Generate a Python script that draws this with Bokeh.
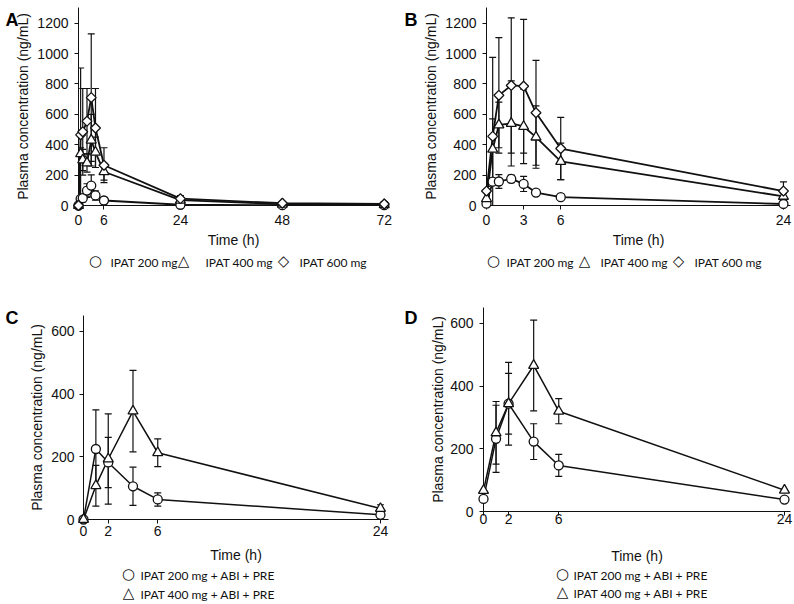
import numpy as np
from bokeh.plotting import figure
from bokeh.models import ColumnDataSource, Whisker, TeeHead, FixedTicker, Range1d
from bokeh.layouts import column, row
from bokeh.embed import file_html
from bokeh.resources import INLINE

# ---------------- data ----------------
# Panel A: 0-72 h
tA = [0, 0.5, 1, 2, 3, 4, 6, 24, 48, 72]
a200 = [0, 44, 48, 98, 131, 66, 33, 5, 2, 2]
a200_sd = [0, 20, 25, 45, 70, 30, 10, 3, 1, 1]
a400 = [0, 340, 300, 280, 430, 350, 222, 35, 8, 5]
a400_sd = [0, 40, 70, 60, 170, 100, 55, 15, 4, 3]
a600 = [0, 465, 485, 555, 710, 510, 265, 45, 15, 10]
a600_sd = [0, 440, 285, 215, 420, 260, 115, 20, 6, 5]

# Panel B: 0-24 h
tB = [0, 0.5, 1, 2, 3, 4, 6, 24]
b200 = [12, 157, 158, 175, 142, 85, 55, 10]
b200_sd = [3, 15, 45, 25, 50, 12, 8, 3]
b400 = [45, 370, 530, 540, 520, 450, 290, 60]
b400_sd = [10, 200, 150, 280, 245, 205, 120, 20]
b600 = [95, 455, 725, 790, 785, 610, 375, 95]
b600_sd = [30, 520, 380, 445, 440, 345, 205, 60]

# Panel C: with ABI + PRE
tC = [0, 1, 2, 4, 6, 24]
c200 = [0, 225, 182, 106, 64, 15]
c200_sd = [0, 125, 80, 61, 21, 3]
c400 = [0, 108, 193, 346, 213, 35]
c400_sd = [0, 65, 144, 130, 44, 12]

# Panel D: with ABI + PRE
tD = [0, 1, 2, 4, 6, 24]
d200 = [40, 232, 344, 223, 147, 38]
d200_sd = [0, 107, 97, 57, 35, 0]
d400 = [67, 251, 344, 466, 320, 68]
d400_sd = [0, 100, 132, 145, 40, 0]

xticks_A = [0, 6, 24, 48, 72]
xticks_B = [0, 3, 6, 24]
xticks_CD = [0, 2, 6, 24]
yticks_AB = [0, 200, 400, 600, 800, 1000, 1200]
yticks_CD = [0, 200, 400, 600]

labels_AB = ["IPAT 200 mg", "IPAT 400 mg", "IPAT 600 mg"]
labels_CD = ["IPAT 200 mg + ABI + PRE", "IPAT 400 mg + ABI + PRE"]

TICK_FONT = "Liberation Sans"
LEG_FONT = "Lato"
SYM_FONT = "DejaVu Sans"
INK = "#111111"

MARKERS = {
    "circle": dict(marker="circle", size=9, angle=0.0, sym="\u25cb"),
    "triangle": dict(marker="triangle", size=10, angle=0.0, sym="\u25b3"),
    "diamond": dict(marker="square", size=7, angle=np.pi / 4, sym="\u25c7"),
}


def make_panel(origin, width, height, borders, xr, yr, xticks, yticks, series,
               letter, letter_page, legend_page, xstand, ystand, lw, ybounds=None):
    ox, oy = origin
    left, right, top, bottom = borders
    p = figure(width=width, height=height, x_range=Range1d(*xr),
               y_range=Range1d(*yr), output_backend="svg",
               toolbar_location=None, min_border_left=left,
               min_border_right=right, min_border_top=top,
               min_border_bottom=bottom)
    p.outline_line_color = None
    p.xgrid.visible = False
    p.ygrid.visible = False
    p.background_fill_color = None
    p.border_fill_color = "white"

    for ax, ticks, lab in ((p.xaxis[0], xticks, "Time (h)"),
                           (p.yaxis[0], yticks, "Plasma concentration (ng/mL)")):
        ax.ticker = FixedTicker(ticks=ticks)
        ax.axis_label = lab
        ax.axis_line_color = INK
        ax.major_tick_line_color = INK
        ax.minor_tick_line_color = None
        ax.major_tick_in = 0
        ax.major_tick_out = 4
        ax.major_label_text_font = TICK_FONT
        ax.major_label_text_font_size = "14px"
        ax.major_label_text_color = INK
        ax.axis_label_text_font = TICK_FONT
        ax.axis_label_text_font_style = "normal"
        ax.axis_label_text_color = INK
        ax.axis_label_text_font_size = "14px"
    p.xaxis.major_label_standoff = xstand[0]
    p.xaxis.axis_label_standoff = xstand[1]
    p.yaxis.major_label_standoff = ystand[0]
    p.yaxis.axis_label_standoff = ystand[1]
    if ybounds is not None:
        p.yaxis.bounds = ybounds

    # page pixel -> data coordinate helpers (for legend and panel letter)
    fl = ox + left
    fb = oy + height - bottom
    xs = (width - left - right) / (xr[1] - xr[0])
    ys = (height - top - bottom) / (yr[1] - yr[0])

    def to_x(px):
        return xr[0] + (px - fl) / xs

    def to_y(py):
        return yr[0] + (fb - py) / ys

    # error bars
    for t, m, sd, mk, lab in series:
        m = np.asarray(m, float)
        sd = np.asarray(sd, float)
        src = ColumnDataSource(dict(t=t, m=m, up=m + sd, lo=np.clip(m - sd, 0, None)))
        w = Whisker(source=src, base="t", upper="up", lower="lo",
                    dimension="height", line_color=INK, line_width=1.2,
                    upper_head=TeeHead(size=7, line_color=INK, line_width=1.2),
                    lower_head=TeeHead(size=7, line_color=INK, line_width=1.2))
        p.add_layout(w)
    # lines
    for t, m, sd, mk, lab in series:
        p.line(t, m, line_color=INK, line_width=lw)
    # markers
    for t, m, sd, mk, lab in series:
        cfg = MARKERS[mk]
        p.scatter(t, m, marker=cfg["marker"], size=cfg["size"], angle=cfg["angle"],
                  fill_color="white", line_color=INK, line_width=1.3,
                  level="overlay")

    # legend (symbols + labels) drawn below the axis
    for (t, m, sd, mk, lab), (gx, gy, tx) in zip(series, legend_page):
        cfg = MARKERS[mk]
        p.text(x=[to_x(gx)], y=[to_y(gy - 2)], text=[cfg["sym"]],
               text_font={"value": SYM_FONT}, text_font_size="15px",
               text_color=INK, text_baseline="middle", text_align="center",
               level="overlay")
        p.text(x=[to_x(tx)], y=[to_y(gy)], text=[lab],
               text_font={"value": LEG_FONT}, text_font_size="12px",
               text_color=INK, text_baseline="middle", text_align="left",
               level="overlay")

    # panel letter
    p.text(x=[to_x(letter_page[0])], y=[to_y(letter_page[1])], text=[letter],
           text_font={"value": TICK_FONT}, text_font_style="bold",
           text_font_size="18px", text_color="black",
           text_baseline="alphabetic", text_align="left", level="overlay")
    return p


pA = make_panel((0, 0), 400, 298, (78, 12, 7, 93), (0, 73), (0, 1303), xticks_A, yticks_AB,
                [(tA, a200, a200_sd, "circle", labels_AB[0]),
                 (tA, a400, a400_sd, "triangle", labels_AB[1]),
                 (tA, a600, a600_sd, "diamond", labels_AB[2])],
                "A", (5, 19),
                [(95, 262, 110), (183, 262, 205), (283, 262, 299)],
                (5, 4), (6, 3), 1.8)

pB = make_panel((400, 0), 394, 298, (86, 4, 7, 93), (0, 24.57), (0, 1303), xticks_B, yticks_AB,
                [(tB, b200, b200_sd, "circle", labels_AB[0]),
                 (tB, b400, b400_sd, "triangle", labels_AB[1]),
                 (tB, b600, b600_sd, "diamond", labels_AB[2])],
                "B", (404, 19),
                [(493, 262, 506), (584, 262, 600), (678, 262, 694)],
                (5, 4), (6, 3), 1.8)

pC = make_panel((0, 298), 400, 306, (83, 12, 17, 85), (0, 24.65), (0, 651), xticks_CD, yticks_CD,
                [(tC, c200, c200_sd, "circle", labels_CD[0]),
                 (tC, c400, c400_sd, "triangle", labels_CD[1])],
                "C", (5, 317),
                [(128, 575, 140), (128, 594, 140)],
                (2, 8), (5, 3), 1.5)

pD = make_panel((400, 298), 394, 306, (83, 4, 9, 93), (0, 24.48), (0, 651), xticks_CD, yticks_CD,
                [(tD, d200, d200_sd, "circle", labels_CD[0]),
                 (tD, d400, d400_sd, "triangle", labels_CD[1])],
                "D", (404, 317),
                [(562, 575, 573), (562, 593, 573)],
                (-2, 21), (6, 1), 1.5)

# every figure in its own single-child row so that frames are not aligned
layout = row(column(row(pA), row(pC)), column(row(pB), row(pD)))
open("out.html", "w").write(file_html(layout, INLINE))
